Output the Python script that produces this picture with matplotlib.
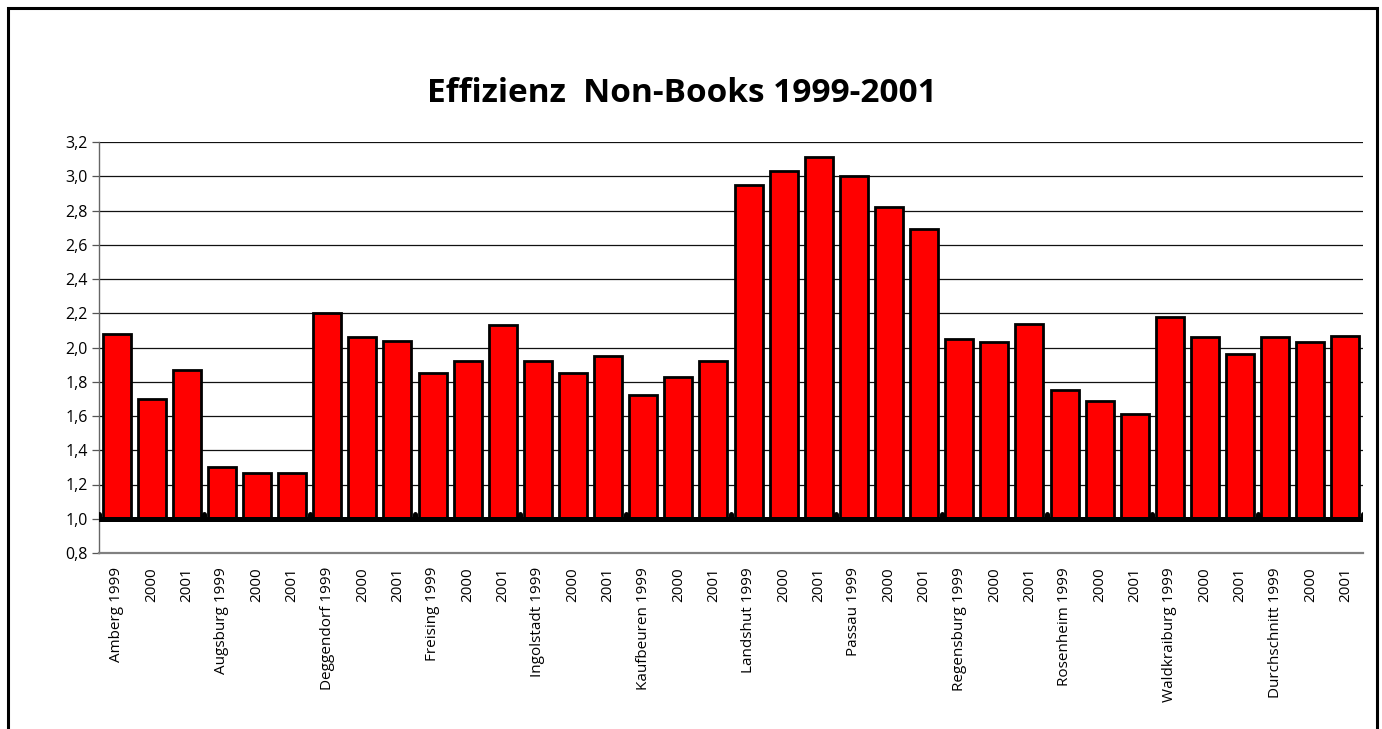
import matplotlib.pyplot as plt
import numpy as np
from matplotlib.patches import Rectangle

# Category labels (site + year) and efficiency values
labels = [
    "Amberg 1999", "2000", "2001",
    "Augsburg 1999", "2000", "2001",
    "Deggendorf 1999", "2000", "2001",
    "Freising 1999", "2000", "2001",
    "Ingolstadt 1999", "2000", "2001",
    "Kaufbeuren 1999", "2000", "2001",
    "Landshut 1999", "2000", "2001",
    "Passau 1999", "2000", "2001",
    "Regensburg 1999", "2000", "2001",
    "Rosenheim 1999", "2000", "2001",
    "Waldkraiburg 1999", "2000", "2001",
    "Durchschnitt 1999", "2000", "2001",
]
values = [
    2.08, 1.70, 1.87,
    1.30, 1.27, 1.27,
    2.20, 2.06, 2.04,
    1.85, 1.92, 2.13,
    1.92, 1.85, 1.95,
    1.72, 1.83, 1.92,
    2.95, 3.03, 3.11,
    3.00, 2.82, 2.69,
    2.05, 2.03, 2.14,
    1.75, 1.69, 1.61,
    2.18, 2.06, 1.96,
    2.06, 2.03, 2.07,
]
baseline = 1.0
y_ticks = [0.8, 1.0, 1.2, 1.4, 1.6, 1.8, 2.0, 2.2, 2.4, 2.6, 2.8, 3.0, 3.2]
group_size = 3

plt.rcParams['font.family'] = ['Open Sans', 'DejaVu Sans']

fig = plt.figure(figsize=(13.82, 7.29), dpi=100)
ax = fig.add_axes([99 / 1382, 1 - 553 / 729, (1363 - 99) / 1382, (553 - 142) / 729])

# outer frame around the chart area
fig.patches.append(Rectangle((8 / 1382, -0.01), (1377 - 8) / 1382, 1 - 8 / 729 + 0.01,
                             transform=fig.transFigure, fill=False,
                             edgecolor='black', linewidth=2.2, zorder=10))

x = np.arange(len(values))
heights = np.array(values) - baseline
ax.bar(x, heights, bottom=baseline, width=0.8, color='#ff0000',
       edgecolor='black', linewidth=2.0, zorder=3)

# horizontal gridlines
for t in y_ticks[1:]:
    ax.axhline(t, color='#111111', linewidth=0.9, zorder=1)

# thick category axis at the baseline with group ticks
ax.axhline(baseline, color='black', linewidth=3.6, zorder=4, solid_capstyle='round')
bounds = np.arange(-0.5, len(values), group_size)
ax.vlines(bounds, baseline, baseline + 0.03, color='black', linewidth=3.6,
          capstyle='round', zorder=4)

ax.set_xlim(-0.5, len(values) - 0.5)
ax.set_ylim(0.8, 3.2)
ax.set_yticks(y_ticks)
ax.set_yticklabels([f"{t:.1f}".replace('.', ',') for t in y_ticks], fontsize=11.5)
ax.set_xticks(x)
ax.set_xticklabels(labels, rotation=90, fontsize=11)
ax.tick_params(axis='x', length=0, pad=10)
ax.tick_params(axis='y', length=5, width=0.9, color='#555555', pad=3)

for side in ('top', 'right'):
    ax.spines[side].set_visible(False)
ax.spines['left'].set_color('#666666')
ax.spines['left'].set_linewidth(1.0)
ax.spines['bottom'].set_color('#808080')
ax.spines['bottom'].set_linewidth(1.6)

fig.text(682 / 1382, 1 - 94 / 729, "Effizienz  Non-Books 1999-2001",
         ha='center', va='center', fontsize=24, fontweight='bold')

fig.savefig('out.png', dpi=100)
